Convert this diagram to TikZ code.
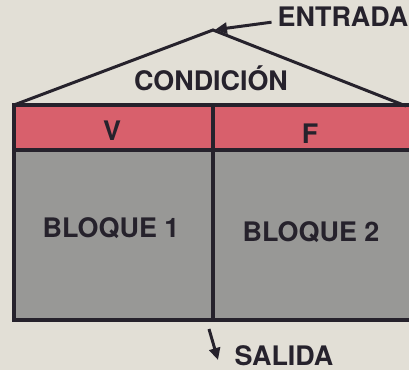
\documentclass[tikz,border=0pt]{standalone}
\usepackage{fontspec}
\setsansfont{TeX Gyre Heros}
\usetikzlibrary{arrows.meta}
\definecolor{paper}{RGB}{226,223,214}
\definecolor{band}{RGB}{216,96,108}
\definecolor{block}{RGB}{152,152,150}
\definecolor{ink}{RGB}{38,34,44}
\tikzset{
  lbl/.style={font=\sffamily\bfseries\fontsize{27}{32}\selectfont, text=ink, anchor=base, inner sep=0pt},
  edge/.style={draw=ink, line width=4bp},
  pointer/.style={draw=ink, line width=3bp, -{Triangle[length=12bp,width=11bp]}}
}
\begin{document}
\begin{tikzpicture}[x=1bp,y=-1bp]
  \fill[paper] (0,0) rectangle (409,370);
  \useasboundingbox (0,0) rectangle (409,370);
  \coordinate (top) at (213,30);
  \coordinate (nw) at (14,105);
  \coordinate (ne) at (413,105);
  \coordinate (roofr) at (406,106);
  \coordinate (mid) at (212.5,105);
  \coordinate (low) at (212.5,320);
  \coordinate (sw) at (14,320);
  \coordinate (se) at (413,320);
  \coordinate (exit) at (209,329);
  \coordinate (exittip) at (218,360);
  \fill[band] (nw) rectangle (413,150);
  \fill[block] (14,150) rectangle (se);
  \draw[draw=ink, line width=3bp, line join=miter] (nw) -- (top) -- (roofr);
  \draw[edge] (ne) -- (nw) -- (sw) -- (se)
  (mid) -- (low)
  (14,150) -- (413,150);
  \node[lbl] (cond) at (211,90) {CONDICIÓN};
  \node[lbl] (v) at (112,140) {V};
  \node[lbl] (f) at (310,143) {F};
  \node[lbl] (b1) at (111,237) {BLOQUE 1};
  \node[lbl] (b2) at (311,241) {BLOQUE 2};
  \node[lbl] (in) at (343,26) {ENTRADA};
  \node[lbl] (out) at (284,365) {SALIDA};
  \draw[pointer, shorten >=2bp] ([xshift=-6bp,yshift=-6bp]in.west) -- (top);
  \draw[pointer] (exit) -- (exittip);
\end{tikzpicture}
\end{document}
